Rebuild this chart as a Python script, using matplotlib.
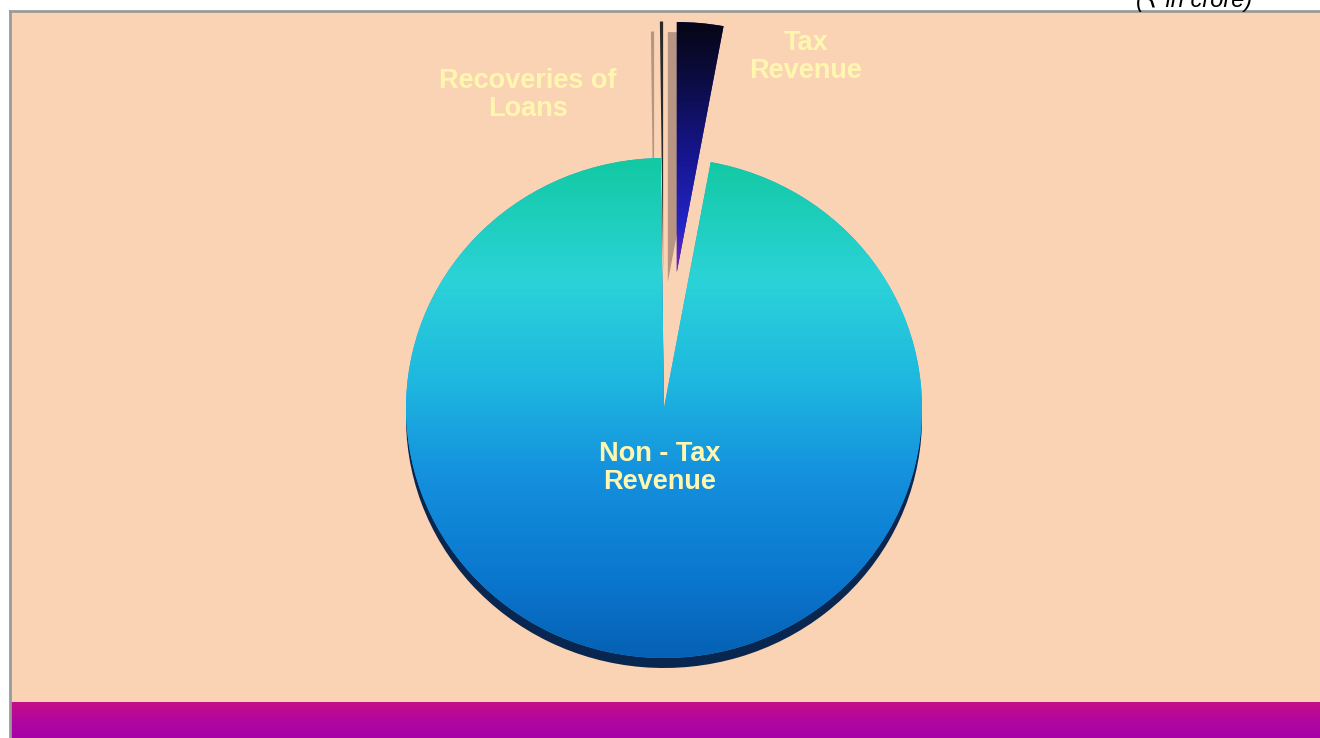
import numpy as np
import matplotlib
matplotlib.use("Agg")
import matplotlib.pyplot as plt
from matplotlib.colors import LinearSegmentedColormap
from matplotlib.patches import Rectangle

# ---- data (share of receipts, %) ----
categories = ["Tax Revenue", "Non - Tax Revenue", "Recoveries of Loans"]
values = [2.9, 96.9, 0.2]
explode = [0.546, 0.0, 0.546]
unit_note = "(\u20b9 in crore)"

W, H = 1320, 738
fig = plt.figure(figsize=(W / 100, H / 100), dpi=100)
fig.patch.set_facecolor("white")

# background axes in pixel coordinates (y measured from top)
bg = fig.add_axes([0, 0, 1, 1])
bg.set_xlim(0, W)
bg.set_ylim(H, 0)
bg.axis("off")
bg.add_patch(Rectangle((10, 11), W - 10, 691, facecolor="#FAD3B4", edgecolor="none", zorder=0))
band = np.linspace(0, 1, 64).reshape(-1, 1)
band_cmap = LinearSegmentedColormap.from_list("band", ["#C60E86", "#B207A0", "#A602A8"])
bg.imshow(band, cmap=band_cmap, extent=(10, W, 738, 702), aspect="auto", zorder=1)
bg.plot([9.5, W], [10.5, 10.5], color="#9A9A9A", lw=2, zorder=2)
bg.plot([9.5, 9.5], [10.5, H], color="#9A9A9A", lw=2, zorder=2)
bg.set_xlim(0, W)
bg.set_ylim(H, 0)

# pie axes: unit radius, elliptical by pixel scaling
cx, cy = 664, 408
rx, ry = 258, 250
ax = fig.add_axes([0, 0, 1, 1])
ax.patch.set_alpha(0)
xlim = ((0 - cx) / rx, (W - cx) / rx)
ylim = (-(H - cy) / ry, cy / ry)


def py2d(py):
    return (cy - py) / ry


# soft drop shadow
sh, _ = ax.pie(values, startangle=90, counterclock=False, explode=explode,
               radius=1.0, center=(-9 / rx, -10 / ry), colors=["#A88676"] * 3,
               wedgeprops=dict(linewidth=0, alpha=0.8), frame=True)
# dark rim beneath
rim, _ = ax.pie(values, startangle=90, counterclock=False, explode=explode,
                radius=1.0, center=(0, -10 / ry), colors=["#0A2A58", "#082650", "#222222"],
                wedgeprops=dict(linewidth=0), frame=True)
rim[0].set_visible(False)
rim[2].set_visible(False)
sh[1].set_visible(False)
for w in sh + rim:
    w.set_zorder(1)

wedges, _ = ax.pie(values, startangle=90, counterclock=False, explode=explode,
                   radius=1.0, center=(0, 0), colors=["#1A1A90", "#1AA5E0", "#2A2A2A"],
                   wedgeprops=dict(linewidth=0), frame=True)
for w in wedges:
    w.set_zorder(2)

# gradient fills
nt_cmap = LinearSegmentedColormap.from_list(
    "nt", [(0.0, "#12C9A2"), (0.24, "#2BD3D8"), (0.44, "#1EB8E0"),
           (0.62, "#1592DE"), (0.84, "#0A76CE"), (1.0, "#0560B2")])
g = np.linspace(0, 1, 256).reshape(-1, 1)
im = ax.imshow(g, cmap=nt_cmap, extent=(-1.05, 1.05, py2d(662), py2d(158)),
               aspect="auto", zorder=3)
im.set_clip_path(wedges[1])

tx_cmap = LinearSegmentedColormap.from_list(
    "tx", [(0.0, "#05050F"), (0.25, "#0C0C42"), (0.55, "#161690"),
           (0.82, "#2424C8"), (1.0, "#8A22B8")])
im2 = ax.imshow(g, cmap=tx_cmap, extent=(-0.2, 0.4, py2d(274), py2d(14)),
                aspect="auto", zorder=3)
im2.set_clip_path(wedges[0])

ax.set_xlim(*xlim)
ax.set_ylim(*ylim)
ax.set_aspect("auto")
ax.axis("off")

# labels
lab_kw = dict(color="#FFF7B0", fontsize=19.5, fontweight="bold",
              family=["Liberation Sans", "DejaVu Sans"], ha="center", va="center",
              linespacing=1.08, zorder=10)
fig.text(806 / W, 1 - 57 / H, "Tax\nRevenue", **lab_kw)
fig.text(528 / W, 1 - 95 / H, "Recoveries of\nLoans", **lab_kw)
fig.text(660 / W, 1 - 468 / H, "Non - Tax\nRevenue", **lab_kw)

fig.text(1194 / W, 1 - 7 / H, unit_note, fontsize=17, style="italic",
         family=["Liberation Sans", "DejaVu Sans"], ha="center", va="baseline",
         color="black")

fig.savefig("out.png", dpi=100, facecolor=fig.get_facecolor())
